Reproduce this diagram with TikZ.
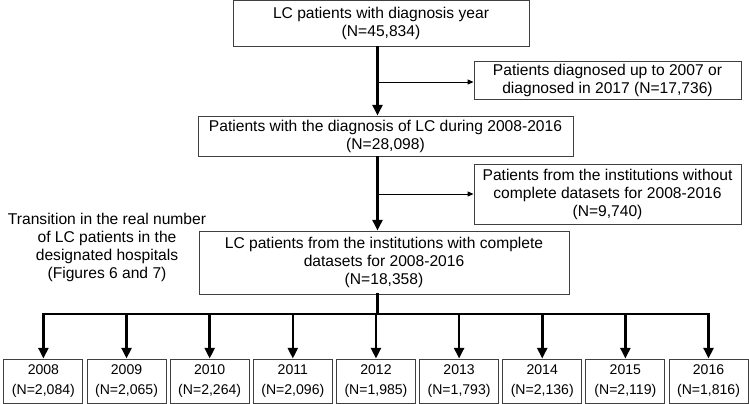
\documentclass[tikz,border=0pt]{standalone}
\usepackage{fontspec}
\setmainfont{Liberation Sans}
\usetikzlibrary{arrows.meta,positioning,calc}
\definecolor{ink}{HTML}{000000}
\definecolor{frame}{HTML}{404040}
\tikzset{
  every node/.style={font=\fontsize{11.1}{12.8}\selectfont, text=ink},
  box/.style={draw=frame, line width=0.7pt, align=center, inner sep=0pt},
  yearbox/.style={box, minimum width=1.975cm, minimum height=1.1cm,
    font=\fontsize{10}{13.6}\selectfont},
  flow/.style={-{Triangle[length=7.5pt,width=7pt]}, line width=1.8pt, draw=ink},
  side/.style={-{Triangle[length=4.2pt,width=3.6pt]}, line width=0.6pt, draw=ink},
  trunk/.style={line width=1.8pt, draw=ink, line cap=rect},
  annot/.style={align=center}
}

\begin{document}
\begin{tikzpicture}
  \useasboundingbox (0,0) rectangle (18.725,-10.1);

  \node[box, minimum width=7.4cm, minimum height=1.15cm] (all) at (9.525,-0.575)
    {LC patients with diagnosis year\\(N=45,834)};
  \node[box, minimum width=6.675cm, minimum height=0.95cm] (out1) at (15.1875,-2.0)
    {Patients diagnosed up to 2007 or\\diagnosed in 2017 (N=17,736)};
  \node[box, minimum width=9.375cm, minimum height=1.0cm] (period) at (9.6375,-3.4)
    {Patients with the diagnosis of LC during 2008-2016\\(N=28,098)};
  \node[box, minimum width=6.675cm, minimum height=1.5cm] (out2) at (15.1875,-4.85)
    {Patients from the institutions without\\complete datasets for 2008-2016\\(N=9,740)};
  \node[box, minimum width=9.25cm, minimum height=1.575cm] (full) at (9.6,-6.5625)
    {LC patients from the institutions with complete\\datasets for 2008-2016\\(N=18,358)};
  \node[annot] (note) at (2.675,-6.1875)
    {Transition in the real number\\of LC patients in the\\designated hospitals\\(Figures 6 and 7)};

  % main stream with the two exclusions
  \coordinate (cut1) at (9.4375,-2.05);
  \coordinate (cut2) at (9.4375,-4.85);
  \coordinate (hub) at (9.4375,-7.85);
  \draw[flow] (all.south -| cut1) -- (period.north -| cut1);
  \draw[side] (cut1) -- (out1.west |- cut1);
  \draw[flow] (period.south -| cut2) -- (full.north -| cut2);
  \draw[side] (cut2) -- (out2.west |- cut2);
  \draw[trunk] (full.south -| hub) -- (hub);

  \foreach \yr/\num [count=\i from 0] in {2008/{2,084},2009/{2,065},2010/{2,264},
      2011/{2,096},2012/{1,985},2013/{1,793},2014/{2,136},2015/{2,119},2016/{1,816}}{
    \node[yearbox] (y\yr) at ({1.085+2.0785*\i},-9.525) {\yr\\(N=\num)};
    \draw[flow] (y\yr.north |- hub) -- (y\yr.north);
  }
  \draw[trunk] (y2008.north |- hub) -- (y2016.north |- hub);
\end{tikzpicture}
\end{document}
